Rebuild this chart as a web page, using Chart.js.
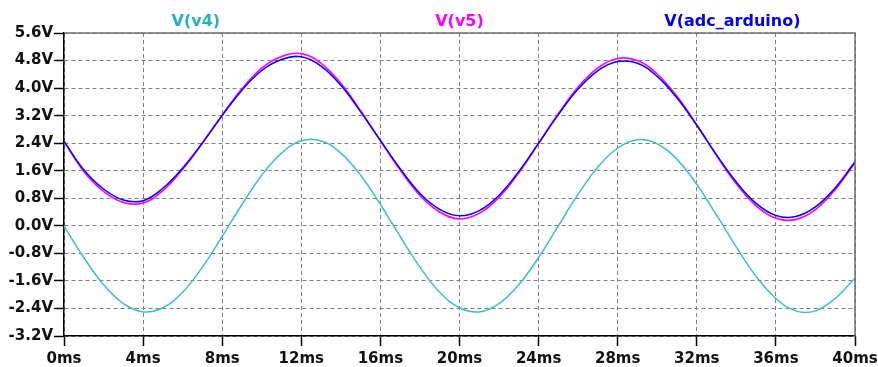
<!DOCTYPE html>
<html>
<head>
<meta charset="utf-8">
<script src="https://cdn.jsdelivr.net/npm/chart.js@4.4.1/dist/chart.umd.min.js"></script>
<style>
  body { margin: 0; background: #ffffff; }
</style>
</head>
<body>
<canvas id="grafico" width="878" height="367"></canvas>
<script>
// tempo em ms
const tempos = [0, 1, 2, 3, 4, 5, 6, 7, 8, 9, 10, 11, 12, 13, 14, 15, 16, 17, 18, 19, 20,
    21, 22, 23, 24, 25, 26, 27, 28, 29, 30, 31, 32, 33, 34, 35, 36, 37, 38, 39, 40];

const vV4 = [0, -0.92, -1.71, -2.26, -2.50, -2.38, -1.93, -1.20, -0.31, 0.62, 1.47,
    2.11, 2.47, 2.47, 2.11, 1.47, 0.62, -0.31, -1.20, -1.93, -2.38,
    -2.50, -2.26, -1.71, -0.92, 0, 0.92, 1.71, 2.26, 2.50, 2.38,
    1.93, 1.20, 0.31, -0.62, -1.47, -2.11, -2.47, -2.47, -2.11, -1.52];

const vV5 = [2.45, 1.58, 1.00, 0.68, 0.66, 1.02, 1.64, 2.40, 3.22, 3.98, 4.58,
    4.92, 5.00, 4.72, 4.14, 3.34, 2.47, 1.62, 0.88, 0.40, 0.20,
    0.36, 0.83, 1.54, 2.39, 3.26, 4.03, 4.59, 4.86, 4.80, 4.41,
    3.76, 2.93, 2.04, 1.22, 0.58, 0.22, 0.18, 0.47, 1.05, 1.83];

const vAdc = [2.46, 1.63, 1.07, 0.75, 0.73, 1.09, 1.68, 2.41, 3.20, 3.94, 4.51,
    4.83, 4.91, 4.64, 4.08, 3.31, 2.48, 1.66, 0.94, 0.48, 0.29,
    0.44, 0.89, 1.58, 2.40, 3.23, 3.97, 4.51, 4.77, 4.72, 4.34,
    3.71, 2.92, 2.06, 1.27, 0.65, 0.30, 0.27, 0.55, 1.10, 1.86];

const nomes = ['V(v4)', 'V(v5)', 'V(adc_arduino)'];

const fonte = '"DejaVu Sans", Verdana, sans-serif';

function pontos(valores) {
    return tempos.map((t, i) => ({ x: t, y: valores[i] }));
}

// nomes das curvas no topo + moldura cinza (topo e direita)
const titulos = {
    id: 'titulos',
    afterDraw(chart) {
        const ctx = chart.ctx;
        const area = chart.chartArea;
        ctx.save();
        ctx.strokeStyle = '#6e6e6e';
        ctx.lineWidth = 1.5;
        ctx.beginPath();
        ctx.moveTo(area.left, area.top);
        ctx.lineTo(area.right, area.top);
        ctx.lineTo(area.right, area.bottom);
        ctx.stroke();

        const pos = [1 / 6, 1 / 2, 0.845];
        const cores = ['#24b4b8', '#ff00ff', '#0000ff'];
        ctx.font = 'bold 16px ' + fonte;
        ctx.textAlign = 'center';
        ctx.textBaseline = 'alphabetic';
        nomes.forEach((n, i) => {
            ctx.fillStyle = cores[i];
            ctx.fillText(n, area.left + area.width * pos[i], 26);
        });
        ctx.restore();
    }
};

const dados = {
    datasets: [{
        label: nomes[2],
        data: pontos(vAdc),
        borderColor: '#0000ff',
        borderWidth: 1.5,
        pointRadius: 0,
        tension: 0.4,
        order: 0
    }, {
        label: nomes[1],
        data: pontos(vV5),
        borderColor: '#ff00ff',
        borderWidth: 1.6,
        pointRadius: 0,
        tension: 0.4,
        order: 1
    }, {
        label: nomes[0],
        data: pontos(vV4),
        borderColor: '#3cc0c4',
        borderWidth: 1.5,
        pointRadius: 0,
        tension: 0.4,
        order: 2
    }]
};

const config = {
    type: 'line',
    data: dados,
    plugins: [titulos],
    options: {
        responsive: false,
        animation: false,
        layout: {
            padding: { top: 33, right: 23, left: 0, bottom: 0 }
        },
        plugins: {
            legend: { display: false },
            tooltip: { enabled: false }
        },
        scales: {
            x: {
                type: 'linear',
                min: 0,
                max: 40,
                afterFit: s => {
                    s.height = 31;
                    s.paddingLeft = 0;
                    s.paddingRight = 0;
                },
                ticks: {
                    stepSize: 4,
                    padding: 4,
                    color: '#111111',
                    maxRotation: 0,
                    font: { family: fonte, size: 15, weight: 'bold' },
                    callback: v => v + 'ms'
                },
                grid: {
                    color: '#808080',
                    lineWidth: 1,
                    tickLength: 10,
                    tickColor: '#000000',
                    tickWidth: 1.5,
                    tickBorderDash: []
                },
                border: { color: '#000000', width: 1.5, dash: [4, 3] }
            },
            y: {
                min: -3.2,
                max: 5.6,
                afterFit: s => {
                    s.width = 64;
                    s.paddingTop = 0;
                    s.paddingBottom = 0;
                },
                ticks: {
                    stepSize: 0.8,
                    padding: 1,
                    color: '#111111',
                    font: { family: fonte, size: 15, weight: 'bold' },
                    callback: v => v.toFixed(1) + 'V'
                },
                grid: {
                    color: '#808080',
                    lineWidth: 1,
                    tickLength: 10,
                    tickColor: '#000000',
                    tickWidth: 1.5,
                    tickBorderDash: []
                },
                border: { color: '#000000', width: 1.5, dash: [4, 3] }
            }
        }
    }
};

const grafico = new Chart(document.getElementById('grafico'), config);
</script>
</body>
</html>
